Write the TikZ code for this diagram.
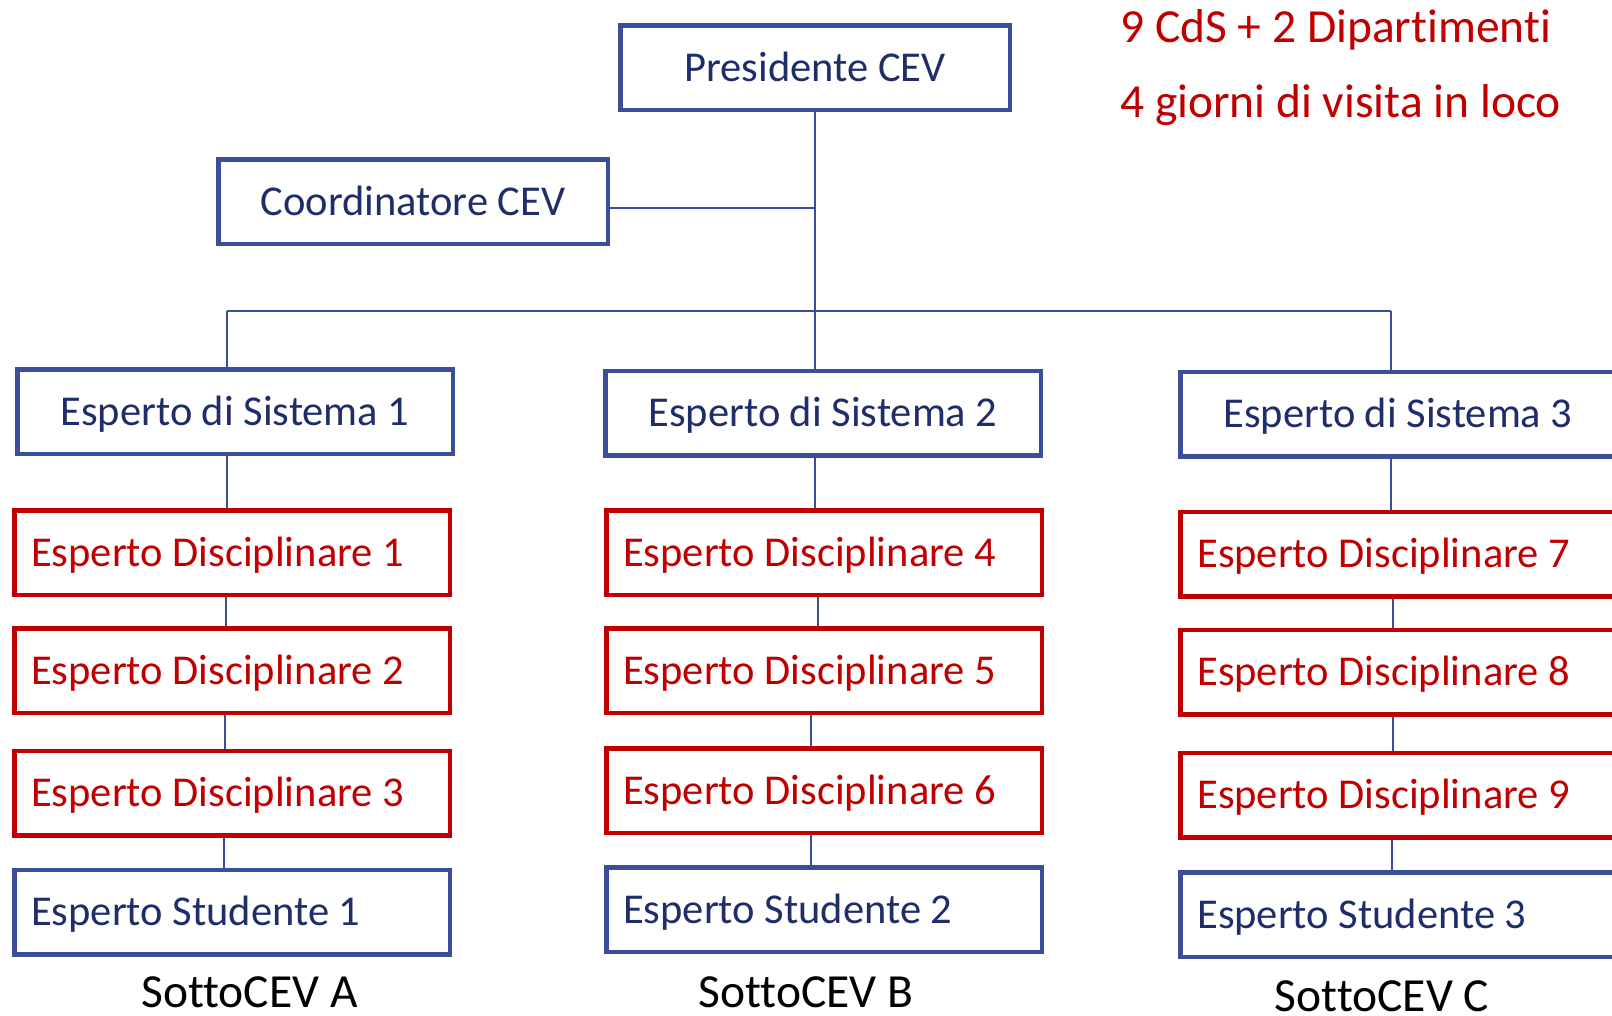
\documentclass[tikz,border=0pt]{standalone}
\usepackage{fontspec}
\setmainfont{Carlito}[Ligatures=NoCommon]
\usetikzlibrary{backgrounds}
\definecolor{bord}{HTML}{3C4E98}
\definecolor{navy}{HTML}{1F2D6B}
\definecolor{myred}{HTML}{C00000}
\newcommand{\lefttext}[1]{\makebox[401.5pt][l]{#1}}
\begin{document}
\begin{tikzpicture}[x=1pt,y=-1pt,
  box/.style={draw, line width=4.5pt, fill=white, minimum height=84.5pt, text height=27pt, text depth=0pt, inner ysep=0pt, font=\fontsize{42.5pt}{50pt}\selectfont},
  cbox/.style={box, draw=bord, text=navy, minimum width=389.5pt},
  sbox/.style={box, draw=bord, text=navy, minimum width=435.5pt},
  lbox/.style={box, inner xsep=17pt, minimum width=435.5pt},
  dbox/.style={lbox, draw=myred, text=myred},
  stbox/.style={lbox, draw=bord, text=navy},
  conn/.style={draw=bord, line width=2pt},
  lab/.style={font=\fontsize{47.5pt}{55pt}\selectfont, text height=30pt, text depth=0pt, inner sep=0pt}
]
\useasboundingbox (0,0) rectangle (1612,1015);
\clip (0,0) rectangle (1612,1015);

% top level
\node[cbox] (pres) at (815,67.5) {Presidente CEV};
\node[cbox] (coord) at (413,201.5) {Coordinatore CEV};

% system experts
\node[sbox] (sys1) at (235,411.5) {Esperto di Sistema 1};
\node[sbox] (sys2) at (823,413) {Esperto di Sistema 2};
\node[sbox] (sys3) at (1398,414) {Esperto di Sistema 3};

% column A
\node[dbox] (ed1) at (232,552.5) {\lefttext{Esperto Disciplinare 1}};
\node[dbox] (ed2) at (232,670.8) {\lefttext{Esperto Disciplinare 2}};
\node[dbox] (ed3) at (232,793) {\lefttext{Esperto Disciplinare 3}};
\node[stbox] (es1) at (232,912) {\lefttext{Esperto Studente 1}};

% column B
\node[dbox] (ed4) at (824,552.5) {\lefttext{Esperto Disciplinare 4}};
\node[dbox] (ed5) at (824,670.8) {\lefttext{Esperto Disciplinare 5}};
\node[dbox] (ed6) at (824,790.5) {\lefttext{Esperto Disciplinare 6}};
\node[stbox] (es2) at (824,909.5) {\lefttext{Esperto Studente 2}};

% column C
\node[dbox] (ed7) at (1398,554) {\lefttext{Esperto Disciplinare 7}};
\node[dbox] (ed8) at (1398,672) {\lefttext{Esperto Disciplinare 8}};
\node[dbox] (ed9) at (1398,795.3) {\lefttext{Esperto Disciplinare 9}};
\node[stbox] (es3) at (1398,914.6) {\lefttext{Esperto Studente 3}};

% labels
\node[lab] (la) at (249.5,992.5) {SottoCEV A};
\node[lab] (lb) at (806,992.5) {SottoCEV B};
\node[lab] (lc) at (1382,996) {SottoCEV C};
\node[lab, text=myred, anchor=west] (t1) at (1120,27) {9 CdS + 2 Dipartimenti};
\node[lab, text=myred, anchor=west] (t2) at (1120,102) {4 giorni di visita in loco};

\begin{pgfonlayer}{background}
\fill[white] (0,0) rectangle (1612,1015);
\coordinate (bus) at (815,311);
\coordinate (busL) at (227,311);
\coordinate (busR) at (1391,311);
\coordinate (cj) at ([yshift=-6.5pt]coord.east);
\draw[conn] (pres.south) -- (bus);
\draw[conn] (cj) -- (cj -| bus);
\draw[conn, line width=2.5pt] (busL) -- (busR);
\draw[conn] (busL) -- (busL |- sys1.north);
\draw[conn] (bus) -- (bus |- sys2.north);
\draw[conn] (busR) -- (busR |- sys3.north);
% column A
\draw[conn] (sys1.south -| busL) -- (ed1.north -| busL);
\draw[conn] ([xshift=-6pt]ed1.south) -- ([xshift=-6pt]ed2.north);
\draw[conn] ([xshift=-7pt]ed2.south) -- ([xshift=-7pt]ed3.north);
\draw[conn] ([xshift=-8pt]ed3.south) -- ([xshift=-8pt]es1.north);
% column B
\draw[conn] (sys2.south -| bus) -- (ed4.north -| bus);
\draw[conn] ([xshift=-6pt]ed4.south) -- ([xshift=-6pt]ed5.north);
\draw[conn] ([xshift=-13pt]ed5.south) -- ([xshift=-13pt]ed6.north);
\draw[conn] ([xshift=-13pt]ed6.south) -- ([xshift=-13pt]es2.north);
% column C
\draw[conn] (sys3.south -| busR) -- (ed7.north -| busR);
\draw[conn] ([xshift=-5pt]ed7.south) -- ([xshift=-5pt]ed8.north);
\draw[conn] ([xshift=-5pt]ed8.south) -- ([xshift=-5pt]ed9.north);
\draw[conn] ([xshift=-6pt]ed9.south) -- ([xshift=-6pt]es3.north);
\end{pgfonlayer}
\end{tikzpicture}
\end{document}
